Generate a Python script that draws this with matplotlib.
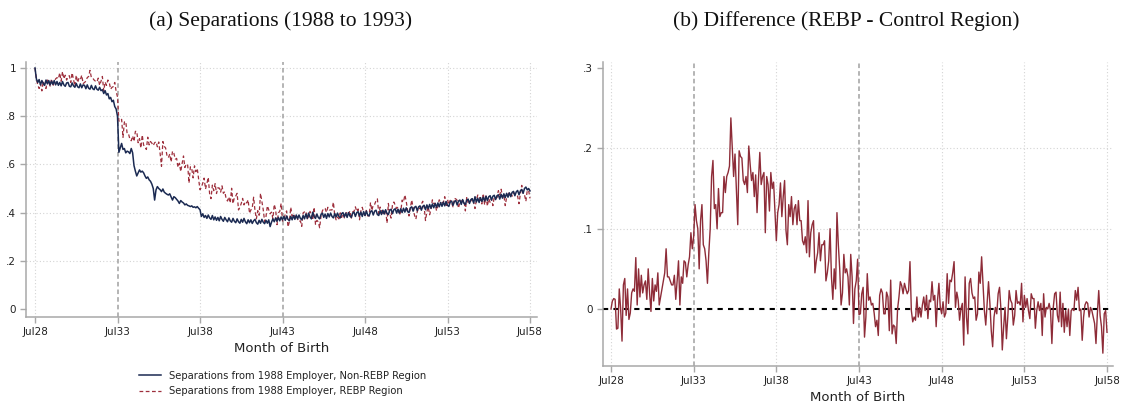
import numpy as np
import matplotlib
matplotlib.use("Agg")
import matplotlib.pyplot as plt

# ---------------- data (monthly, Jul1928 .. Jul1958) ----------------
tick_labels = ["Jul28", "Jul33", "Jul38", "Jul43", "Jul48", "Jul53", "Jul58"]
tick_months = [0, 60, 120, 180, 240, 300, 360]
cutoff_months = [60, 180]

non_rebp = [
    1.000, 0.955, 0.940, 0.952, 0.930, 0.948, 0.936, 0.928, 0.950, 0.934, 0.948, 0.930,
    0.946, 0.932, 0.948, 0.930, 0.944, 0.928, 0.940, 0.926, 0.944, 0.930, 0.924, 0.938,
    0.940, 0.924, 0.922, 0.938, 0.926, 0.920, 0.936, 0.922, 0.918, 0.934, 0.918, 0.930,
    0.928, 0.914, 0.930, 0.916, 0.912, 0.928, 0.914, 0.910, 0.926, 0.912, 0.908, 0.920,
    0.906, 0.910, 0.894, 0.906, 0.888, 0.894, 0.872, 0.878, 0.860, 0.866, 0.840, 0.830,
    0.800, 0.650, 0.668, 0.687, 0.662, 0.666, 0.648, 0.655, 0.652, 0.645, 0.666, 0.648,
    0.595, 0.572, 0.552, 0.565, 0.577, 0.568, 0.572, 0.565, 0.552, 0.542, 0.548, 0.536,
    0.530, 0.518, 0.500, 0.452, 0.494, 0.508, 0.500, 0.495, 0.487, 0.498, 0.485, 0.480,
    0.476, 0.473, 0.478, 0.465, 0.452, 0.466, 0.462, 0.455, 0.448, 0.438, 0.450, 0.444,
    0.440, 0.432, 0.436, 0.430, 0.428, 0.425, 0.428, 0.422, 0.424, 0.420, 0.425, 0.418,
    0.412, 0.384, 0.395, 0.380, 0.388, 0.376, 0.390, 0.378, 0.372, 0.388, 0.370, 0.382,
    0.368, 0.380, 0.366, 0.384, 0.372, 0.364, 0.380, 0.370, 0.362, 0.378, 0.366, 0.360,
    0.376, 0.364, 0.358, 0.374, 0.362, 0.356, 0.372, 0.360, 0.376, 0.362, 0.354, 0.370,
    0.358, 0.370, 0.355, 0.366, 0.372, 0.358, 0.352, 0.368, 0.356, 0.372, 0.360, 0.354,
    0.368, 0.356, 0.370, 0.342, 0.360, 0.374, 0.362, 0.378, 0.364, 0.380, 0.366, 0.382,
    0.370, 0.384, 0.368, 0.386, 0.372, 0.366, 0.384, 0.370, 0.388, 0.372, 0.390, 0.374,
    0.390, 0.376, 0.370, 0.388, 0.374, 0.394, 0.376, 0.398, 0.382, 0.374, 0.402, 0.384,
    0.376, 0.394, 0.380, 0.374, 0.392, 0.398, 0.380, 0.394, 0.376, 0.396, 0.382, 0.398,
    0.384, 0.378, 0.396, 0.382, 0.398, 0.384, 0.378, 0.396, 0.400, 0.382, 0.398, 0.380,
    0.400, 0.386, 0.380, 0.398, 0.402, 0.384, 0.400, 0.404, 0.386, 0.402, 0.384, 0.404,
    0.388, 0.406, 0.390, 0.386, 0.404, 0.408, 0.390, 0.406, 0.410, 0.392, 0.388, 0.408,
    0.392, 0.410, 0.394, 0.412, 0.396, 0.392, 0.410, 0.414, 0.396, 0.412, 0.416, 0.398,
    0.414, 0.398, 0.416, 0.400, 0.418, 0.402, 0.420, 0.404, 0.400, 0.420, 0.424, 0.406,
    0.422, 0.426, 0.408, 0.424, 0.428, 0.410, 0.426, 0.430, 0.412, 0.432, 0.416, 0.434,
    0.418, 0.436, 0.420, 0.438, 0.422, 0.440, 0.424, 0.442, 0.426, 0.444, 0.428, 0.446,
    0.430, 0.426, 0.444, 0.448, 0.430, 0.446, 0.450, 0.432, 0.448, 0.452, 0.434, 0.454,
    0.438, 0.434, 0.452, 0.456, 0.438, 0.454, 0.458, 0.440, 0.466, 0.444, 0.460, 0.442,
    0.462, 0.446, 0.464, 0.448, 0.468, 0.450, 0.466, 0.470, 0.452, 0.468, 0.472, 0.454,
    0.470, 0.474, 0.456, 0.476, 0.460, 0.478, 0.462, 0.480, 0.464, 0.482, 0.466, 0.484,
    0.488, 0.470, 0.486, 0.492, 0.474, 0.490, 0.496, 0.480, 0.500, 0.506, 0.494, 0.500,
    0.490,
]

rebp = [
    1.000, 0.955, 0.930, 0.915, 0.935, 0.905, 0.945, 0.925, 0.915, 0.950, 0.940, 0.925,
    0.955, 0.925, 0.940, 0.955, 0.960, 0.955, 0.980, 0.945, 0.985, 0.955, 0.970, 0.950,
    0.965, 0.968, 0.940, 0.980, 0.952, 0.925, 0.970, 0.940, 0.958, 0.952, 0.970, 0.935,
    0.940, 0.945, 0.960, 0.965, 0.990, 0.960, 0.958, 0.950, 0.945, 0.942, 0.958, 0.928,
    0.945, 0.965, 0.905, 0.942, 0.928, 0.950, 0.940, 0.912, 0.920, 0.923, 0.940, 0.903,
    0.880, 0.780, 0.778, 0.787, 0.712, 0.776, 0.778, 0.728, 0.727, 0.705, 0.698, 0.718,
    0.695, 0.737, 0.737, 0.690, 0.707, 0.668, 0.722, 0.680, 0.672, 0.662, 0.713, 0.681,
    0.695, 0.688, 0.678, 0.690, 0.694, 0.673, 0.693, 0.645, 0.592, 0.695, 0.675, 0.668,
    0.636, 0.628, 0.643, 0.610, 0.655, 0.646, 0.622, 0.625, 0.588, 0.605, 0.570, 0.604,
    0.635, 0.587, 0.601, 0.600, 0.523, 0.590, 0.583, 0.544, 0.594, 0.570, 0.583, 0.538,
    0.495, 0.505, 0.522, 0.543, 0.498, 0.520, 0.546, 0.478, 0.458, 0.514, 0.491, 0.520,
    0.479, 0.503, 0.502, 0.485, 0.511, 0.480, 0.487, 0.458, 0.448, 0.465, 0.440, 0.501,
    0.437, 0.463, 0.469, 0.480, 0.411, 0.422, 0.438, 0.459, 0.432, 0.446, 0.440, 0.453,
    0.397, 0.411, 0.420, 0.464, 0.408, 0.374, 0.408, 0.389, 0.480, 0.446, 0.412, 0.363,
    0.384, 0.428, 0.411, 0.395, 0.402, 0.375, 0.434, 0.412, 0.350, 0.399, 0.405, 0.438,
    0.365, 0.372, 0.393, 0.407, 0.341, 0.362, 0.422, 0.385, 0.395, 0.381, 0.389, 0.373,
    0.362, 0.366, 0.343, 0.399, 0.403, 0.406, 0.374, 0.384, 0.405, 0.395, 0.369, 0.422,
    0.351, 0.368, 0.362, 0.337, 0.386, 0.407, 0.418, 0.417, 0.401, 0.422, 0.411, 0.411,
    0.411, 0.443, 0.388, 0.370, 0.382, 0.374, 0.399, 0.380, 0.396, 0.378, 0.397, 0.401,
    0.392, 0.407, 0.374, 0.403, 0.405, 0.424, 0.405, 0.415, 0.370, 0.407, 0.422, 0.400,
    0.388, 0.409, 0.386, 0.387, 0.442, 0.409, 0.432, 0.434, 0.449, 0.457, 0.396, 0.423,
    0.409, 0.390, 0.400, 0.413, 0.357, 0.438, 0.394, 0.377, 0.434, 0.444, 0.430, 0.417,
    0.423, 0.390, 0.404, 0.452, 0.444, 0.473, 0.446, 0.408, 0.386, 0.421, 0.452, 0.419,
    0.389, 0.373, 0.404, 0.420, 0.416, 0.435, 0.447, 0.424, 0.367, 0.404, 0.424, 0.391,
    0.414, 0.453, 0.437, 0.439, 0.408, 0.426, 0.453, 0.443, 0.441, 0.443, 0.466, 0.424,
    0.453, 0.434, 0.451, 0.440, 0.424, 0.459, 0.457, 0.451, 0.418, 0.444, 0.449, 0.446,
    0.451, 0.407, 0.465, 0.440, 0.446, 0.448, 0.459, 0.444, 0.417, 0.452, 0.473, 0.469,
    0.448, 0.436, 0.479, 0.432, 0.469, 0.427, 0.458, 0.442, 0.458, 0.429, 0.464, 0.460,
    0.462, 0.491, 0.473, 0.497, 0.464, 0.472, 0.429, 0.464, 0.475, 0.485, 0.479, 0.468,
    0.484, 0.474, 0.470, 0.468, 0.437, 0.478, 0.513, 0.478, 0.474, 0.447, 0.492, 0.492,
    0.459,
]

difference = [
    0.000, 0.010, 0.013, 0.012, -0.025, -0.024, 0.025, 0.000, -0.040, 0.030, 0.038, -0.008,
    0.025, -0.013, -0.005, 0.020, 0.025, 0.022, 0.064, 0.005, 0.050, 0.015, 0.042, 0.020,
    0.030, 0.035, 0.012, 0.050, 0.020, -0.003, 0.038, 0.010, 0.030, 0.022, 0.045, 0.005,
    0.015, 0.025, 0.035, 0.045, 0.075, 0.040, 0.040, 0.035, 0.030, 0.030, 0.042, 0.012,
    0.035, 0.060, 0.005, 0.040, 0.032, 0.060, 0.058, 0.040, 0.055, 0.065, 0.095, 0.075,
    0.090, 0.130, 0.110, 0.100, 0.050, 0.110, 0.130, 0.080, 0.075, 0.060, 0.032, 0.070,
    0.100, 0.165, 0.185, 0.125, 0.130, 0.100, 0.150, 0.115, 0.120, 0.120, 0.165, 0.145,
    0.165, 0.170, 0.178, 0.238, 0.200, 0.165, 0.193, 0.150, 0.105, 0.197, 0.190, 0.188,
    0.160, 0.155, 0.165, 0.145, 0.203, 0.180, 0.160, 0.170, 0.140, 0.167, 0.120, 0.160,
    0.195, 0.155, 0.165, 0.170, 0.095, 0.165, 0.155, 0.122, 0.170, 0.150, 0.158, 0.120,
    0.085, 0.120, 0.130, 0.157, 0.115, 0.140, 0.160, 0.098, 0.080, 0.130, 0.115, 0.140,
    0.105, 0.125, 0.130, 0.105, 0.135, 0.110, 0.110, 0.085, 0.080, 0.090, 0.070, 0.135,
    0.065, 0.095, 0.105, 0.110, 0.045, 0.060, 0.070, 0.095, 0.060, 0.080, 0.080, 0.085,
    0.035, 0.045, 0.060, 0.100, 0.040, 0.012, 0.050, 0.025, 0.120, 0.080, 0.050, 0.005,
    0.020, 0.068, 0.045, 0.050, 0.040, 0.005, 0.068, 0.040, -0.018, 0.025, 0.035, 0.062,
    -0.007, -0.006, 0.019, 0.027, -0.035, -0.010, 0.044, 0.011, 0.015, 0.005, 0.007, -0.005,
    -0.022, -0.014, -0.033, 0.017, 0.025, 0.020, -0.006, -0.006, 0.021, 0.015, -0.027, 0.036,
    -0.031, -0.020, -0.022, -0.043, 0.000, 0.015, 0.034, 0.029, 0.019, 0.032, 0.025, 0.019,
    0.023, 0.059, -0.002, -0.016, -0.010, -0.014, 0.015, -0.010, 0.002, -0.010, 0.005, 0.015,
    -0.002, 0.017, -0.012, 0.011, 0.009, 0.034, 0.011, 0.017, -0.022, 0.011, 0.032, 0.002,
    -0.006, 0.009, -0.010, -0.005, 0.044, 0.007, 0.036, 0.034, 0.045, 0.059, 0.002, 0.021,
    0.011, -0.014, 0.000, 0.007, -0.045, 0.040, -0.010, -0.031, 0.032, 0.038, 0.020, 0.013,
    0.015, -0.014, -0.006, 0.046, 0.032, 0.065, 0.032, -0.002, -0.020, 0.007, 0.034, 0.007,
    -0.027, -0.047, -0.010, 0.002, -0.006, 0.019, 0.027, 0.000, -0.051, -0.022, 0.002, -0.037,
    -0.010, 0.023, 0.011, 0.007, -0.020, -0.008, 0.023, 0.007, 0.009, 0.005, 0.032, -0.016,
    0.017, 0.002, 0.013, -0.002, -0.012, 0.019, 0.013, 0.013, -0.024, -0.002, 0.009, -0.002,
    0.007, -0.033, 0.019, -0.010, 0.002, 0.000, 0.007, -0.002, -0.043, 0.002, 0.019, 0.021,
    -0.008, -0.016, 0.021, -0.022, 0.007, -0.029, -0.002, -0.022, 0.000, -0.033, -0.002, 0.000,
    -0.002, 0.023, 0.011, 0.027, -0.002, 0.000, -0.039, -0.010, 0.005, 0.009, 0.007, -0.010,
    0.002, -0.002, -0.010, -0.018, -0.043, -0.006, 0.023, -0.008, -0.022, -0.055, -0.006, -0.002,
    -0.029,
]

left_yticks = [0, 0.2, 0.4, 0.6, 0.8, 1.0]
left_ylabels = ["0", ".2", ".4", ".6", ".8", "1"]
right_yticks = [0, 0.1, 0.2, 0.3]
right_ylabels = ["0", ".1", ".2", ".3"]

legend_labels = ["Separations from 1988 Employer, Non-REBP Region",
                 "Separations from 1988 Employer, REBP Region"]

# ---------------- styling ----------------
W, H = 1123, 404
fig = plt.figure(figsize=(W / 100, H / 100), dpi=100)
fig.patch.set_facecolor("white")

NAVY = "#1b2a52"
RED = "#9e2f3c"
MAROON = "#8e2c38"
SPINE = "#a8a8a8"
GRID = "#d4d4d4"
VLINE = "#a0a0a0"
TXT = "#222222"


def px_axes(x0, x1, ytop, ybot):
    return fig.add_axes([x0 / W, (H - ybot) / H, (x1 - x0) / W, (ybot - ytop) / H])


def style(ax, yticks, ylabels, grid_y):
    for s in ["top", "right"]:
        ax.spines[s].set_visible(False)
    for s in ["left", "bottom"]:
        ax.spines[s].set_color(SPINE)
        ax.spines[s].set_linewidth(1.1)
    ax.set_xticks(tick_months)
    ax.set_xticklabels(tick_labels)
    ax.set_yticks(yticks)
    ax.set_yticklabels(ylabels)
    ax.tick_params(axis="both", direction="out", length=4, width=1.0,
                   color=SPINE, labelsize=7.5, labelcolor=TXT, pad=3)
    for m in tick_months:
        if m not in cutoff_months:
            ax.axvline(m, color=GRID, lw=0.8, ls=(0, (1, 2)), zorder=0)
    for g in grid_y:
        ax.axhline(g, color=GRID, lw=0.8, ls=(0, (1, 2)), zorder=0)
    for c in cutoff_months:
        ax.axvline(c, color=VLINE, lw=1.1, ls=(0, (3, 2)), zorder=1)
    ax.set_xlabel("Month of Birth", fontsize=9.5, color=TXT, labelpad=4)


# ---------------- left panel ----------------
ax1 = px_axes(26, 537, 62, 317)
ppm = (530 - 35) / 360.0
ax1.set_xlim(-(35 - 26) / ppm, 360 + (537 - 530) / ppm)
ax1.set_ylim(-(317 - 309) / 241.0, (309 - 62) / 241.0)
style(ax1, left_yticks, left_ylabels, [0.2, 0.4, 0.6, 0.8, 1.0])
m1 = np.arange(len(non_rebp))
m2 = np.arange(len(rebp))
l1, = ax1.plot(m1, non_rebp, color=NAVY, lw=1.1, zorder=3)
l2, = ax1.plot(m2, rebp, color=RED, lw=0.9, ls=(0, (3, 2)), zorder=2)
leg = fig.legend([l1, l2], legend_labels, loc="center", bbox_to_anchor=(283 / W, 1 - 383.5 / H),
                 frameon=False, fontsize=7.2, handlelength=2.2, handletextpad=0.8,
                 labelspacing=0.55, borderpad=0)
for t in leg.get_texts():
    t.set_color(TXT)

# ---------------- right panel ----------------
ax2 = px_axes(603, 1113, 62, 366)
ppm2 = (1107 - 611) / 360.0
ax2.set_xlim(-(611 - 603) / ppm2, 360 + (1113 - 1107) / ppm2)
ax2.set_ylim(-(366 - 309) / 803.0, (309 - 62) / 803.0)
style(ax2, right_yticks, right_ylabels, [0.1, 0.2])
ax2.axhline(0, color="black", lw=1.5, ls=(0, (2.5, 2.5)), zorder=2)
m3 = np.arange(len(difference))
ax2.plot(m3, difference, color=MAROON, lw=1.0, zorder=3)

# ---------------- titles ----------------
title_font = dict(family=["Liberation Serif", "DejaVu Serif"], fontsize=15.5, color="#111111")
fig.text(281 / W, 1 - 21 / H, "(a) Separations (1988 to 1993)", ha="center", va="center", **title_font)
fig.text(846 / W, 1 - 21 / H, "(b) Difference (REBP - Control Region)", ha="center", va="center", **title_font)

fig.savefig("out.png", dpi=100, facecolor="white")
